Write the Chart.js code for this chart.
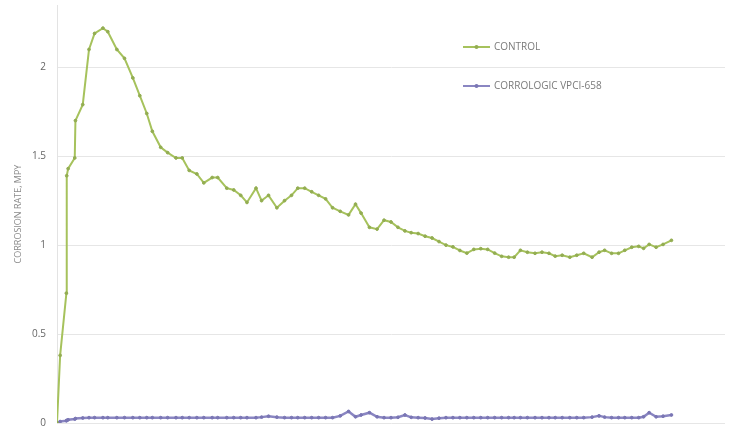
<!DOCTYPE html>
<html>
<head>
<meta charset="utf-8">
<script src="https://cdn.jsdelivr.net/npm/chart.js@4.4.1/dist/chart.umd.min.js"></script>
<style>
    html, body { margin: 0; padding: 0; background: #fff; overflow: hidden; }
    #wrap { position: relative; width: 730px; height: 433px; }
</style>
</head>
<body>
<div id="wrap"><canvas id="rateChart"></canvas></div>
<script>
// exposure time (days) for each reading
const days = [
    0, 0.45, 1.35, 1.4, 1.6, 2.55, 2.65, 3.7, 4.6, 5.4,
    6.6, 7.3, 8.6, 9.7, 10.9, 11.9, 12.9, 13.7, 14.9, 15.9,
    17.1, 18, 19, 20.1, 21.1, 22.3, 23.1, 24.4, 25.4, 26.4,
    27.3, 28.6, 29.4, 30.4, 31.6, 32.7, 33.7, 34.6, 35.6, 36.6,
    37.6, 38.6, 39.6, 40.7, 41.9, 42.9, 43.7, 44.9, 46, 47,
    48, 49, 50, 50.9, 51.9, 52.9, 53.9, 54.9, 55.9, 56.9,
    57.9, 58.9, 59.9, 60.9, 61.9, 62.9, 63.9, 64.9, 65.7, 66.6,
    67.6, 68.7, 69.7, 70.7, 71.6, 72.6, 73.7, 74.7, 75.7, 76.9,
    77.9, 78.7, 79.7, 80.7, 81.6, 82.6, 83.6, 84.3, 85.1, 86.1,
    87.1, 88.3
];

const controlRate = [
    0, 0.38, 0.73, 1.39, 1.43, 1.49, 1.70, 1.79, 2.10, 2.19,
    2.22, 2.20, 2.10, 2.05, 1.94, 1.84, 1.74, 1.64, 1.55, 1.52,
    1.49, 1.49, 1.42, 1.40, 1.35, 1.38, 1.38, 1.32, 1.31, 1.28,
    1.24, 1.32, 1.25, 1.28, 1.21, 1.25, 1.28, 1.32, 1.32, 1.30,
    1.28, 1.26, 1.21, 1.19, 1.17, 1.23, 1.18, 1.10, 1.09, 1.14,
    1.13, 1.10, 1.08, 1.07, 1.065, 1.05, 1.04, 1.02, 1.00, 0.99,
    0.97, 0.955, 0.976, 0.98, 0.976, 0.955, 0.937, 0.932, 0.932, 0.971,
    0.96, 0.954, 0.96, 0.954, 0.938, 0.943, 0.932, 0.943, 0.954, 0.932,
    0.96, 0.971, 0.954, 0.954, 0.971, 0.988, 0.993, 0.982, 1.004, 0.988,
    1.004, 1.027
];

const vpciRate = [
    0, 0.008, 0.012, 0.015, 0.018, 0.022, 0.025, 0.028, 0.03, 0.03,
    0.03, 0.03, 0.03, 0.03, 0.03, 0.03, 0.03, 0.03, 0.03, 0.03,
    0.03, 0.03, 0.03, 0.03, 0.03, 0.03, 0.03, 0.03, 0.03, 0.03,
    0.03, 0.03, 0.033, 0.038, 0.033, 0.03, 0.03, 0.03, 0.03, 0.03,
    0.03, 0.03, 0.03, 0.04, 0.065, 0.035, 0.045, 0.058, 0.035, 0.03,
    0.03, 0.032, 0.045, 0.032, 0.03, 0.028, 0.022, 0.027, 0.03, 0.03,
    0.03, 0.03, 0.03, 0.03, 0.03, 0.03, 0.03, 0.03, 0.03, 0.03,
    0.03, 0.03, 0.03, 0.03, 0.03, 0.03, 0.03, 0.03, 0.03, 0.033,
    0.04, 0.033, 0.03, 0.03, 0.03, 0.03, 0.03, 0.035, 0.058, 0.035,
    0.038, 0.045
];

const seriesNames = ['CONTROL', 'CORROLOGIC VPCI-658'];
const yTicks = [0, 0.5, 1, 1.5, 2];

const green = '#a6c25c';
const purple = '#8a86c2';

// legend drawn inside the plot, upper right, like the original sheet
const sideLegend = {
    id: 'sideLegend',
    afterDraw(chart) {
        const ctx = chart.ctx;
        const rows = [47, 86];
        ctx.save();
        chart.data.datasets.forEach((ds, i) => {
            const y = rows[i];
            ctx.strokeStyle = ds.borderColor;
            ctx.lineWidth = 2;
            ctx.beginPath();
            ctx.moveTo(463, y);
            ctx.lineTo(490, y);
            ctx.stroke();
            ctx.fillStyle = ds.pointBackgroundColor;
            ctx.beginPath();
            ctx.arc(476.5, y, 2, 0, Math.PI * 2);
            ctx.fill();
            ctx.fillStyle = '#7a7a7a';
            ctx.font = '10px "Open Sans"';
            ctx.textBaseline = 'middle';
            ctx.fillText(ds.label, 494, y + 0.5);
        });
        ctx.restore();
    }
};

new Chart(document.getElementById('rateChart'), {
    type: 'line',
    data: {
        datasets: [
            {
                label: seriesNames[0],
                data: days.map((d, i) => ({ x: d, y: controlRate[i] })),
                borderColor: green,
                borderWidth: 2,
                pointRadius: 1.4,
                pointBackgroundColor: '#93ad52',
                pointBorderColor: '#93ad52',
                pointBorderWidth: 1,
                tension: 0
            },
            {
                label: seriesNames[1],
                data: days.map((d, i) => ({ x: d, y: vpciRate[i] })),
                borderColor: purple,
                borderWidth: 2.5,
                pointRadius: 1.4,
                pointBackgroundColor: '#7a76b4',
                pointBorderColor: '#7a76b4',
                pointBorderWidth: 1,
                tension: 0
            }
        ]
    },
    options: {
        responsive: true,
        maintainAspectRatio: false,
        animation: false,
        layout: {
            padding: { top: 4, right: 0, bottom: 10, left: 0 }
        },
        scales: {
            x: {
                type: 'linear',
                min: 0,
                max: 96,
                display: false
            },
            y: {
                min: 0,
                max: 2.35,
                afterBuildTicks: scale => {
                    scale.ticks = yTicks.map(v => ({ value: v }));
                },
                afterFit: scale => {
                    scale.width = 57;
                    // tick padding should not push the plot down from the top/bottom
                    scale.paddingTop = 0;
                    scale.paddingBottom = 0;
                },
                grid: {
                    color: '#e6e6e6',
                    lineWidth: 1,
                    drawTicks: false
                },
                border: {
                    display: true,
                    color: '#e3e3e3'
                },
                ticks: {
                    padding: 11,
                    color: '#666',
                    font: { family: 'Open Sans', size: 10 },
                    callback: v => String(v)
                },
                title: {
                    display: true,
                    text: 'CORROSION RATE, MPY',
                    color: '#8a8a8a',
                    font: { family: 'Open Sans', size: 9 },
                    padding: { top: 13, bottom: 0 }
                }
            }
        },
        plugins: {
            legend: { display: false },
            tooltip: { enabled: false }
        }
    },
    plugins: [sideLegend]
});
</script>
</body>
</html>
